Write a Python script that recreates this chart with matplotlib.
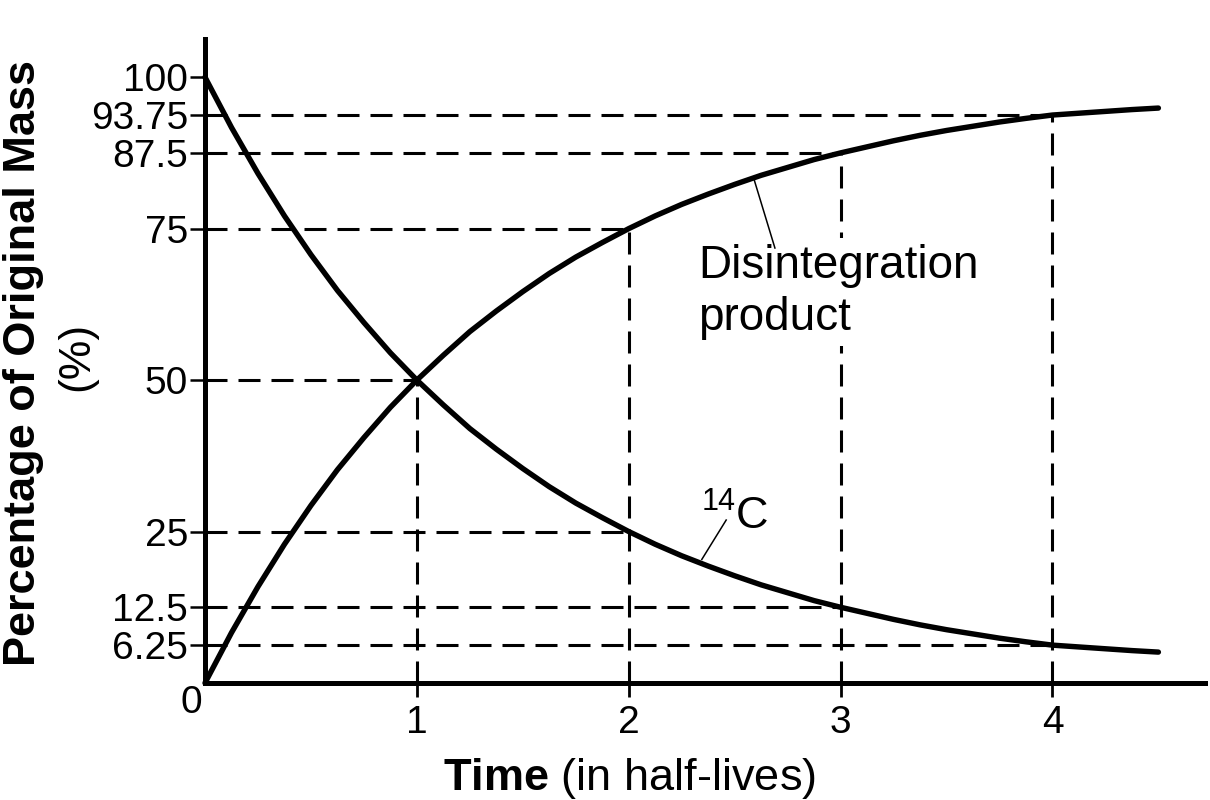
import matplotlib
matplotlib.use('Agg')
import matplotlib.pyplot as plt

# ---- data ----
time = [0, 0.125, 0.25, 0.375, 0.5, 0.625, 0.75, 0.875, 1.0,
        1.125, 1.25, 1.375, 1.5, 1.625, 1.75, 1.875, 2.0,
        2.125, 2.25, 2.375, 2.5, 2.625, 2.75, 2.875, 3.0,
        3.125, 3.25, 3.375, 3.5, 3.625, 3.75, 3.875, 4.0,
        4.125, 4.25, 4.375, 4.5]
c14 = [100, 91.7, 84.1, 77.1, 70.7, 64.8, 59.5, 54.5, 50.0,
       45.9, 42.0, 38.6, 35.4, 32.4, 29.7, 27.3, 25.0,
       22.9, 21.0, 19.3, 17.7, 16.2, 14.9, 13.6, 12.5,
       11.5, 10.5, 9.6, 8.8, 8.1, 7.4, 6.8, 6.25,
       5.95, 5.65, 5.35, 5.1]
product = [0, 8.3, 15.9, 22.9, 29.3, 35.2, 40.5, 45.5, 50.0,
           54.1, 58.0, 61.4, 64.6, 67.6, 70.3, 72.7, 75.0,
           77.1, 79.0, 80.7, 82.3, 83.8, 85.1, 86.4, 87.5,
           88.5, 89.5, 90.4, 91.2, 91.9, 92.6, 93.2, 93.75,
           94.05, 94.35, 94.65, 94.9]

half_lives = [1, 2, 3, 4]
c14_at_half_life = [50, 25, 12.5, 6.25]
product_at_half_life = [50, 75, 87.5, 93.75]

y_ticks = [6.25, 12.5, 25, 50, 75, 87.5, 93.75, 100]
y_tick_labels = ['6.25', '12.5', '25', '50', '75', '87.5', '93.75', '100']
x_ticks = [1, 2, 3, 4]
x_tick_labels = ['1', '2', '3', '4']

# ---- styling ----
plt.rcParams['font.family'] = ['Liberation Sans', 'DejaVu Sans']
plt.rcParams['mathtext.fontset'] = 'custom'
plt.rcParams['mathtext.rm'] = 'Liberation Sans'
plt.rcParams['mathtext.bf'] = 'Liberation Sans:bold'

W, H = 1210, 800
fig = plt.figure(figsize=(W / 100, H / 100), dpi=100)
ax = fig.add_axes([205 / W, 117 / H, 1000 / W, 644 / H])
ax.set_xlim(0, 4.72)
ax.set_ylim(0, 106.3)

for s in ['top', 'right']:
    ax.spines[s].set_visible(False)
for s in ['left', 'bottom']:
    ax.spines[s].set_linewidth(3.6)
    ax.spines[s].set_capstyle('projecting')

dash = (0, (7.2, 3.6))
dlw = 2.2
for t, c, p in zip(half_lives, c14_at_half_life, product_at_half_life):
    ax.plot([t, t], [0, p], color='black', lw=dlw, ls=dash, zorder=2)
    ax.plot([0, t], [p, p], color='black', lw=dlw, ls=dash, zorder=2)
    if c != p:
        ax.plot([0, t], [c, c], color='black', lw=dlw, ls=dash, zorder=2)

ax.plot(time, c14, color='black', lw=3.9, solid_capstyle='round',
        solid_joinstyle='round', clip_on=False, zorder=4)
ax.plot(time, product, color='black', lw=3.9, solid_capstyle='round',
        solid_joinstyle='round', clip_on=False, zorder=4)

ax.set_yticks(y_ticks)
ax.set_yticklabels(y_tick_labels)
ax.set_xticks(x_ticks)
ax.set_xticklabels(x_tick_labels)
ax.tick_params(axis='y', direction='out', length=10.8, width=1.8, pad=1.5,
               labelsize=28, colors='black')
ax.tick_params(axis='x', direction='out', length=10, width=2.0, pad=5.8,
               labelsize=28, colors='black')

# shared origin label
ax.annotate('0', xy=(0, 0), xytext=(-10.1, -21.6), textcoords='offset points',
            ha='center', va='baseline', fontsize=28, annotation_clip=False)

# axis titles
fig.text(629 / W, 10 / H, r'$\mathbf{Time}$ (in half-lives)', ha='center',
         va='baseline', fontsize=32.5)
fig.text(35 / W, 1 - 363 / H, 'Percentage of Original Mass', rotation=90,
         rotation_mode='anchor', ha='center', va='baseline',
         fontweight='bold', fontsize=32.5)
fig.text(88 / W, 1 - 356 / H, '(%)', rotation=90, rotation_mode='anchor',
         ha='center', va='baseline', fontsize=32)

# curve labels with leader lines
ax.plot([2.59, 2.69], [83.3, 71.8], color='black', lw=1.1, zorder=5)
ax.text(2.326, 58.25, 'Disintegration\nproduct', fontsize=33, ha='left',
        va='baseline', linespacing=1.25, zorder=3,
        bbox=dict(facecolor='white', edgecolor='none', pad=4))
ax.plot([2.345, 2.46], [20.4, 26.9], color='black', lw=1.1, zorder=5)
ax.text(2.345, 28.5, '14', fontsize=22, ha='left', va='baseline')
ax.text(2.505, 25.6, 'C', fontsize=32.5, ha='left', va='baseline')

fig.savefig('out.png', dpi=100)
